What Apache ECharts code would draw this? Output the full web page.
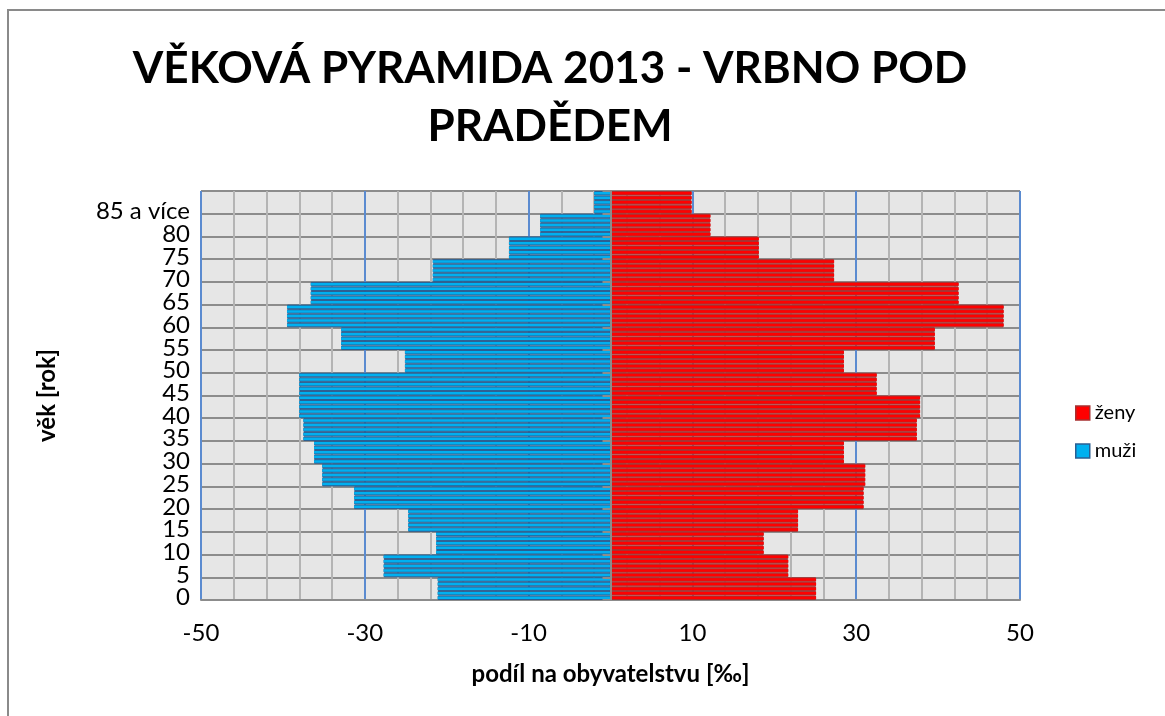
<!DOCTYPE html>
<html>
<head>
<meta charset="utf-8">
<script src="https://cdn.jsdelivr.net/npm/echarts@6/dist/echarts.min.js"></script>
<style>html,body{margin:0;padding:0;background:#fff}#c{width:1165px;height:716px}</style>
</head>
<body>
<div id="c"></div>
<script>
// Tick labels of the age groups (bottom to top)
const ageLabels = ['0','5','10','15','20','25','30','35','40','45','50','55','60','65','70','75','80','85 a více'];
// Share in population [‰], per 5-year group (bottom to top)
const menValues = [-21.1, -27.7, -21.3, -24.7, -31.3, -35.2, -36.2, -37.5, -38.0, -38.0, -25.1, -32.9, -39.5, -36.6, -21.7, -12.4, -8.6, -2.0];
const womenValues = [25.1, 21.7, 18.7, 22.9, 30.9, 31.1, 28.5, 37.4, 37.8, 32.5, 28.5, 39.6, 48.0, 42.5, 27.3, 18.1, 12.2, 9.9];
const xTicks = { min: -50, max: 50, interval: 20 };

// One-year categories (each 5-year group spans 5 rows)
const years = [];
const menRows = [];
const womenRows = [];
for (let g = 0; g < ageLabels.length; g++) {
  for (let k = 0; k < 5; k++) {
    years.push(String(g * 5 + k));
    menRows.push(menValues[g]);
    womenRows.push(womenValues[g]);
  }
}
const every5 = (i) => i % 5 === 0;
const FONT = 'Lato, "Open Sans", sans-serif';
const RED = '#ff0000', RED_DARK = '#a83030';
const BLUE = '#00b0f0', BLUE_DARK = '#2b5f92';

const chart = echarts.init(document.getElementById('c'));
chart.setOption({
  animation: false,
  backgroundColor: '#ffffff',
  graphic: [
    { type: 'rect', shape: { x: 8, y: 10, width: 1300, height: 900 }, style: { fill: 'none', stroke: '#8a8a8a', lineWidth: 2 }, silent: true },
    { type: 'text', x: 550, y: 69, style: { text: 'VĚKOVÁ PYRAMIDA 2013 - VRBNO POD', font: 'bold 44px ' + FONT, fill: '#000', textAlign: 'center', textVerticalAlign: 'middle' } },
    { type: 'text', x: 550, y: 127, style: { text: 'PRADĚDEM', font: 'bold 44px ' + FONT, fill: '#000', textAlign: 'center', textVerticalAlign: 'middle' } }
  ],
  grid: { left: 201, top: 191, right: 145, bottom: 116, show: true, backgroundColor: '#e6e6e6', borderWidth: 0 },
  legend: {
    data: [
      { name: 'ženy', itemStyle: { color: RED, borderColor: RED_DARK, borderWidth: 1.5 } },
      { name: 'muži', itemStyle: { color: BLUE, borderColor: BLUE_DARK, borderWidth: 1.5 } }
    ],
    orient: 'vertical',
    left: 1070,
    top: 396,
    itemWidth: 14,
    itemHeight: 14,
    itemGap: 14,
    icon: 'rect',
    textStyle: { fontFamily: FONT, fontSize: 20, color: '#000', lineHeight: 24 }
  },
  xAxis: {
    type: 'value',
    min: xTicks.min,
    max: xTicks.max,
    interval: xTicks.interval,
    axisLine: { show: true, onZero: false, lineStyle: { color: '#8c8c8c', width: 2 } },
    axisTick: { show: false },
    axisLabel: { fontFamily: FONT, fontSize: 24, color: '#000', margin: 21 },
    splitLine: { show: true, lineStyle: { color: '#5b8bd0', width: 2 } },
    minorTick: { show: false, splitNumber: 5 },
    minorSplitLine: { show: true, lineStyle: { color: '#b4b4b4', width: 2 } },
    name: 'podíl na obyvatelstvu [‰]',
    nameLocation: 'middle',
    nameGap: 62,
    nameTextStyle: { fontFamily: FONT, fontSize: 24, fontWeight: 'bold', color: '#000' }
  },
  yAxis: [
    {
      type: 'category',
      data: years,
      boundaryGap: true,
      axisLine: { show: false, onZero: false },
      axisTick: { show: false },
      axisLabel: { interval: 0, fontFamily: FONT, fontSize: 24, color: '#000', margin: 11,
        formatter: (v, i) => (i % 5 === 0 ? ageLabels[i / 5] : '') },
      splitLine: { show: true, interval: every5, lineStyle: { color: '#8c8c8c', width: 2 } },
      name: 'věk [rok]',
      nameLocation: 'middle',
      nameGap: 142,
      nameTextStyle: { fontFamily: FONT, fontSize: 24, fontWeight: 'bold', color: '#000' }
    },
    {
      type: 'category',
      data: years,
      position: 'left',
      z: 6,
      axisLine: { show: true, onZero: true, lineStyle: { color: '#8c8c8c', width: 2 } },
      axisTick: { show: true, interval: every5, length: 8, lineStyle: { color: '#8c8c8c', width: 2 } },
      axisLabel: { show: false },
      splitLine: { show: false }
    }
  ],
  series: [
    // dark outline layer (full row height)
    {
      name: 'ženy', type: 'bar', yAxisIndex: 0, data: womenRows, barGap: '-100%', barCategoryGap: '0%', z: 2,
      itemStyle: { color: RED_DARK, borderColor: RED_DARK, borderWidth: 1 }
    },
    {
      name: 'muži', type: 'bar', yAxisIndex: 0, data: menRows, barGap: '-100%', barCategoryGap: '0%', z: 2,
      itemStyle: { color: BLUE_DARK, borderColor: BLUE_DARK, borderWidth: 1 }
    },
    // bright fill layer (thinner, leaves dark stripes)
    {
      name: 'ženy', type: 'bar', yAxisIndex: 1, data: womenRows, barGap: '-100%', barWidth: '55%', z: 3,
      itemStyle: { color: RED }
    },
    {
      name: 'muži', type: 'bar', yAxisIndex: 1, data: menRows, barGap: '-100%', barWidth: '55%', z: 3,
      itemStyle: { color: BLUE }
    }
  ]
});
</script>
</body>
</html>
